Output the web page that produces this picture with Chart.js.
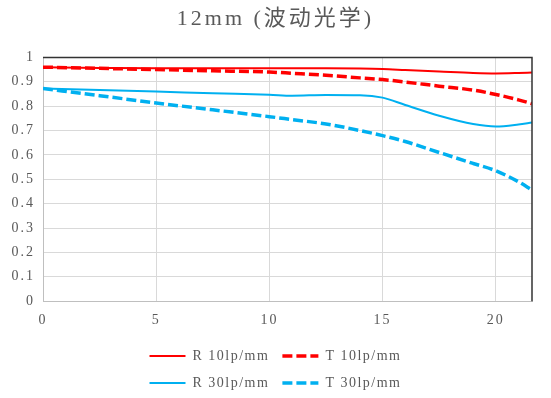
<!DOCTYPE html>
<html>
<head>
<meta charset="utf-8">
<script src="https://cdn.jsdelivr.net/npm/chart.js@4"></script>
<style>
  html, body { margin: 0; padding: 0; background: #fff; }
  #wrap { width: 551px; height: 398px; }
</style>
</head>
<body>
<div id="wrap"><canvas id="mtf"></canvas></div>
<script>
var fieldPos = [0, 2.5, 5, 7.5, 10, 11, 12.5, 14, 15, 16, 17.5, 19, 20, 21, 21.6];
var r10 = [0.960, 0.957, 0.955, 0.955, 0.955, 0.955, 0.955, 0.954, 0.952, 0.948, 0.942, 0.936, 0.934, 0.936, 0.938];
var t10 = [0.960, 0.955, 0.950, 0.945, 0.940, 0.935, 0.927, 0.916, 0.909, 0.899, 0.882, 0.866, 0.848, 0.826, 0.810];
var r30 = [0.872, 0.866, 0.860, 0.853, 0.847, 0.843, 0.846, 0.845, 0.835, 0.805, 0.761, 0.727, 0.717, 0.725, 0.733];
var t30 = [0.872, 0.843, 0.813, 0.785, 0.757, 0.745, 0.727, 0.700, 0.679, 0.655, 0.610, 0.565, 0.535, 0.490, 0.456];
var seriesNames = ["R 10lp/mm", "T 10lp/mm", "R 30lp/mm", "T 30lp/mm"];

var serif = "'Liberation Serif', 'Noto Sans CJK SC', serif";
var grey = "#595959";
var textSpacing = '2px';
var titleSpacing = '3px';
var legendSpacing = '1.5px';

function pts(ys) {
  return fieldPos.map(function (x, i) { return { x: x, y: ys[i] }; });
}

function line(name, ys, color, dashed) {
  return {
    label: name,
    data: pts(ys),
    borderColor: color,
    backgroundColor: color,
    borderWidth: dashed ? 3.5 : 2,
    borderDash: dashed ? [10, 4] : [],
    pointRadius: 0,
    pointStyle: 'line',
    tension: 0.4,
    cubicInterpolationMode: 'monotone'
  };
}

// dark top and right border of the plot area
var frame = {
  id: 'frame',
  afterDatasetsDraw: function (chart) {
    var a = chart.chartArea, ctx = chart.ctx;
    ctx.save();
    ctx.strokeStyle = '#333';
    ctx.lineWidth = 1.5;
    ctx.beginPath();
    ctx.moveTo(a.left, a.top);
    ctx.lineTo(a.right, a.top);
    ctx.lineTo(a.right, a.bottom);
    ctx.stroke();
    ctx.restore();
  }
};

// wide letter spacing like the original, two legend items per row
var spacing = {
  id: 'spacing',
  beforeLayout: function (chart) {
    chart.ctx.letterSpacing = textSpacing;
    var lg = chart.legend, tb = chart.titleBlock;
    if (lg && !lg._patched) {
      var fitRows = lg._fitRows, lgDraw = lg.draw;
      lg._fitRows = function (a, b, c, d) {
        var mw = this.maxWidth;
        this.maxWidth = 300;
        this.ctx.letterSpacing = legendSpacing;
        var r = fitRows.call(this, a, b, c, d);
        this.ctx.letterSpacing = textSpacing;
        this.maxWidth = mw;
        return r;
      };
      lg.draw = function () {
        var l = this.left, r = this.right, mid = (l + r) / 2;
        this.left = mid - 150;
        this.right = mid + 150;
        this.ctx.letterSpacing = legendSpacing;
        lgDraw.call(this);
        this.ctx.letterSpacing = textSpacing;
        this.left = l;
        this.right = r;
      };
      lg._patched = true;
    }
    if (tb && !tb._patched) {
      var draw = tb.draw;
      tb.draw = function () {
        this.ctx.letterSpacing = titleSpacing;
        draw.call(this);
        this.ctx.letterSpacing = textSpacing;
      };
      tb._patched = true;
    }
  },
  beforeDraw: function (chart) {
    chart.ctx.letterSpacing = textSpacing;
  }
};

new Chart("mtf", {
  type: "line",
  data: {
    datasets: [
      line(seriesNames[0], r10, "#ff0000", false),
      line(seriesNames[1], t10, "#ff0000", true),
      line(seriesNames[2], r30, "#00b0f0", false),
      line(seriesNames[3], t30, "#00b0f0", true)
    ]
  },
  options: {
    responsive: true,
    maintainAspectRatio: false,
    animation: false,
    layout: { padding: { left: 0, right: 0, top: 6, bottom: -2 } },
    plugins: {
      title: {
        display: true,
        text: "12mm (波动光学)",
        color: grey,
        font: { family: serif, size: 22, weight: 'normal' },
        padding: { top: 0, bottom: 25 }
      },
      legend: {
        position: 'bottom',
        labels: {
          color: grey,
          font: { family: serif, size: 14 },
          usePointStyle: true,
          pointStyle: 'line',
          pointStyleWidth: 36,
          boxHeight: 14,
          padding: 13,
          generateLabels: function (chart) {
            var items = Chart.defaults.plugins.legend.labels.generateLabels(chart);
            items.forEach(function (it) {
              var ds = chart.data.datasets[it.datasetIndex];
              it.lineDash = ds.borderDash;
              it.lineWidth = ds.borderWidth;
              it.strokeStyle = ds.borderColor;
            });
            return items;
          }
        }
      },
      tooltip: { enabled: false }
    },
    scales: {
      x: {
        type: 'linear',
        min: 0,
        max: 21.6,
        ticks: {
          stepSize: 5,
          includeBounds: false,
          color: grey,
          font: { family: serif, size: 14 },
          padding: 11
        },
        grid: { color: '#d9d9d9', drawTicks: false },
        border: { color: '#bfbfbf' },
        afterFit: function (s) { s.height -= 4; }
      },
      y: {
        min: 0,
        max: 1,
        ticks: {
          stepSize: 0.1,
          color: grey,
          font: { family: serif, size: 14 },
          padding: 8,
          callback: function (v) { return Math.round(v * 10) / 10; }
        },
        grid: { color: '#d9d9d9', drawTicks: false },
        border: { color: '#bfbfbf' },
        afterFit: function (s) { s.width = 43; }
      },
      // empty strip right of the plot
      yR: {
        position: 'right',
        min: 0,
        max: 1,
        grid: { display: false },
        ticks: { display: false },
        border: { display: false },
        afterFit: function (s) { s.width = 19; }
      }
    }
  },
  plugins: [frame, spacing]
});
</script>
</body>
</html>
